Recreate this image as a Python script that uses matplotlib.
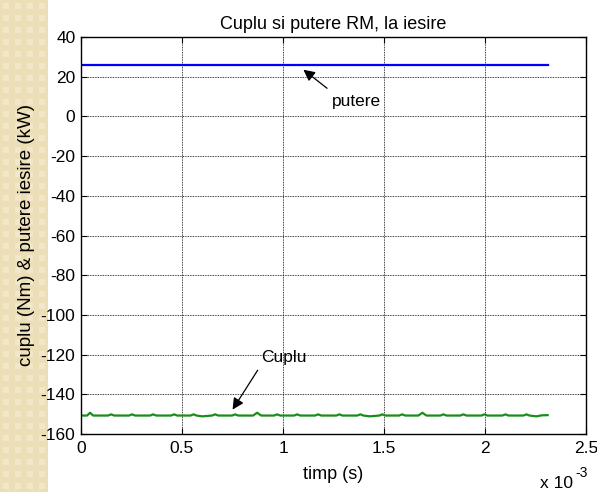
import numpy as np
import matplotlib
matplotlib.use("Agg")
import matplotlib.pyplot as plt

plt.rcParams['font.family'] = ['Liberation Sans', 'DejaVu Sans']
plt.rcParams['axes.unicode_minus'] = False

# Output power (kW) versus time (ms)
t_putere = [0.000, 2.310]
putere = [25.9, 25.9]

# Output torque (Nm) versus time (ms), with its small periodic ripple
t_cuplu = [0.000, 0.030, 0.045, 0.060,
           0.134, 0.149, 0.164,
           0.238, 0.253, 0.268,
           0.342, 0.357, 0.372,
           0.446, 0.461, 0.476,
           0.542, 0.557, 0.572, 0.600,
           0.649, 0.664, 0.679,
           0.748, 0.763, 0.778,
           0.852, 0.872, 0.892,
           0.956, 0.971, 0.986,
           1.055, 1.070, 1.085,
           1.159, 1.174, 1.189,
           1.264, 1.279, 1.294,
           1.368, 1.383, 1.398, 1.430,
           1.477, 1.492, 1.507,
           1.575, 1.590, 1.605,
           1.670, 1.690, 1.710,
           1.779, 1.794, 1.809,
           1.878, 1.893, 1.908,
           1.982, 1.997, 2.012,
           2.086, 2.101, 2.116,
           2.190, 2.205, 2.220, 2.255, 2.280, 2.310]
cuplu = [-150.7, -150.7, -149.3, -150.7,
         -150.7, -150.1, -150.7,
         -150.7, -150.1, -150.7,
         -150.7, -150.1, -150.7,
         -150.7, -150.1, -150.7,
         -150.7, -150.1, -150.7, -151.1,
         -150.7, -150.1, -150.7,
         -150.7, -150.1, -150.7,
         -150.7, -149.3, -150.7,
         -150.7, -150.1, -150.7,
         -150.7, -150.1, -150.7,
         -150.7, -150.1, -150.7,
         -150.7, -150.1, -150.7,
         -150.7, -150.1, -150.7, -151.1,
         -150.7, -150.1, -150.7,
         -150.7, -150.1, -150.7,
         -150.7, -149.3, -150.7,
         -150.7, -150.1, -150.7,
         -150.7, -150.1, -150.7,
         -150.7, -150.1, -150.7,
         -150.7, -150.1, -150.7,
         -150.7, -150.1, -150.7, -151.1, -150.6, -150.5]

x_ticks = [0, 0.5, 1, 1.5, 2, 2.5]
x_ticklabels = ['0', '0.5', '1', '1.5', '2', '2.5']
y_ticks = [40, 20, 0, -20, -40, -60, -80, -100, -120, -140, -160]

fig = plt.figure(figsize=(5.97, 4.92), dpi=100)
fig.patch.set_facecolor('white')

# Decorative beige strip on the left edge
strip_w, strip_h = 48, 492
yy, xx = np.mgrid[0:strip_h, 0:strip_w]
base = np.array([236, 222, 182]) / 255.0
light = np.array([242, 232, 201]) / 255.0
u = (xx % 12) - 5.5
v = (yy % 12) - 5.5
mask = (np.abs(u) < 3.5) & (np.abs(v) < 3.5)
img = np.where(mask[..., None], light, base)
strip_ax = fig.add_axes([0, 0, strip_w / 597, 1])
strip_ax.imshow(img, aspect='auto', interpolation='bilinear')
strip_ax.set_axis_off()

ax = fig.add_axes([81 / 597, 1 - 434 / 492, (586 - 81) / 597, (434 - 37) / 492])
ax.patch.set_alpha(0)

ax.plot(t_putere, putere, color='#0000ff', lw=1.6)
ax.plot(t_cuplu, cuplu, color='#1a8c1a', lw=1.6)

ax.set_xlim(0, 2.5)
ax.set_ylim(-160, 40)
ax.set_xticks(x_ticks)
ax.set_xticklabels(x_ticklabels)
ax.set_yticks(y_ticks)
ax.tick_params(direction='in', length=4, width=0.8, labelsize=12.5,
               top=True, right=True, pad=4)
ax.tick_params(axis='x', pad=5)
ax.grid(True, color='black', linestyle=(0, (1, 1)), linewidth=0.6)
for s in ax.spines.values():
    s.set_linewidth(1.0)

ax.set_title('Cuplu si putere RM, la iesire', fontsize=13, pad=6)
ax.set_xlabel('timp (s)', fontsize=13, labelpad=7)
ax.set_ylabel('cuplu (Nm) & putere iesire (kW)', fontsize=13.5, labelpad=4)

# Time axis multiplier, drawn as base and raised exponent
fig.text(540 / 597, 1 - 488 / 492, 'x 10', fontsize=12.5,
         ha='left', va='baseline')
fig.text(575 / 597, 1 - 477 / 492, '-3', fontsize=10,
         ha='left', va='baseline')

arrow = dict(arrowstyle='-|>', color='black', lw=0.9, mutation_scale=17)
ax.annotate('', xy=(1.090, 24.4), xytext=(1.229, 13.3), arrowprops=arrow)
ax.text(1.363, 7.3, 'putere', fontsize=12.5, ha='center', va='center')
ax.annotate('', xy=(0.743, -148.9), xytext=(0.882, -126.7), arrowprops=arrow)
ax.text(1.006, -121.7, 'Cuplu', fontsize=12.5, ha='center', va='center')

fig.savefig('out.png', dpi=100)
